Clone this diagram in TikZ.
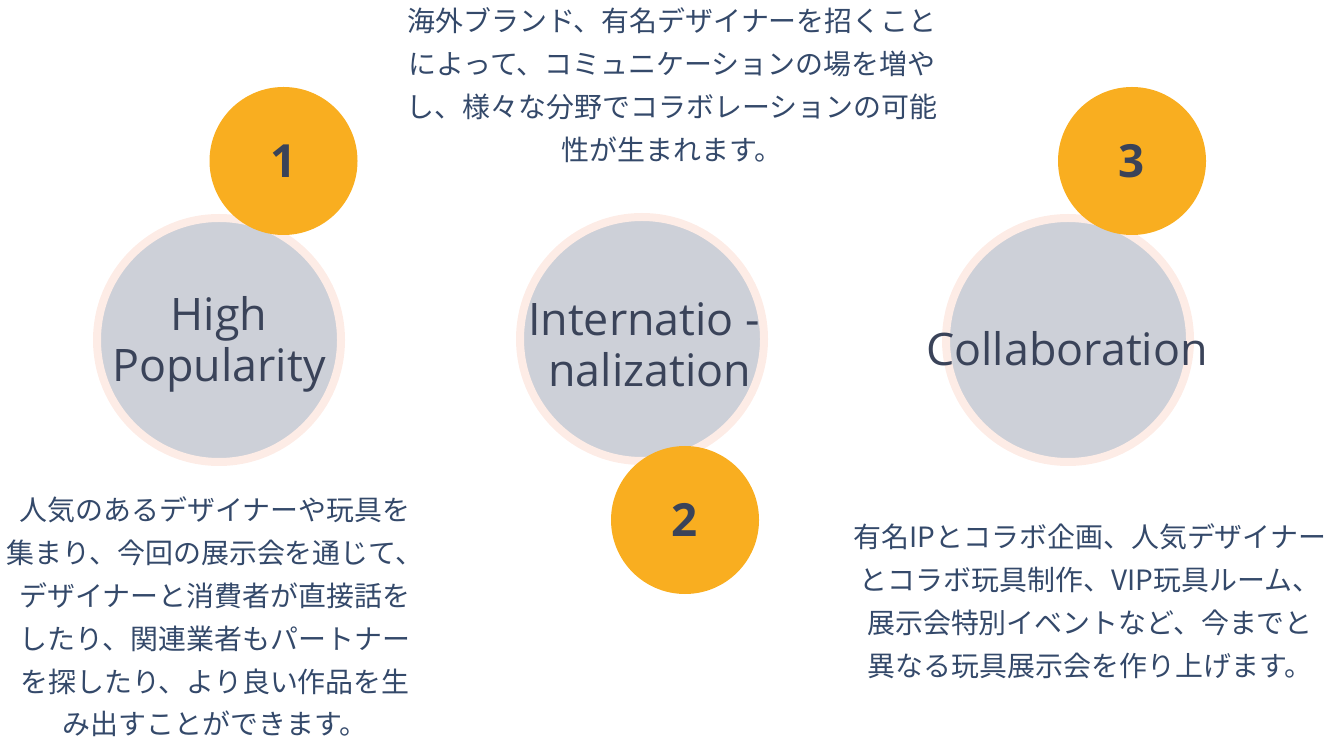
\documentclass[tikz,border=0pt]{standalone}
\usepackage{fontspec}
\setmainfont{Open Sans}
\newfontfamily\jpfont{Noto Sans CJK JP}
\usetikzlibrary{positioning}

\definecolor{bubblegrey}{HTML}{CDD0D8}
\definecolor{ringpink}{HTML}{FDECE6}
\definecolor{badgeorange}{HTML}{F9AE20}
\definecolor{labelink}{HTML}{3A4359}
\definecolor{textink}{HTML}{34496A}

\tikzset{
    bubble/.style={circle, fill=bubblegrey, draw=ringpink, line width=0.16cm,
        minimum size=4.88cm, inner sep=0pt},
    bubblelabel/.style={text=labelink, align=center,
        font=\fontsize{25.5}{28.9}\selectfont},
    badge/.style={circle, fill=badgeorange, minimum size=2.96cm, inner sep=0pt,
        text=labelink, font=\fontsize{26}{29}\selectfont\bfseries},
    note/.style={text=textink, align=center,
        font=\jpfont\fontsize{15.9}{24.4}\selectfont}
}

\begin{document}
\begin{tikzpicture}
    \useasboundingbox (0,0) rectangle (26.54,14.72);

    % Main bubbles
    \node[bubble] (popular) at (4.38,7.92) {};
    \node[bubble] (global) at (12.84,7.94) {};
    \node[bubble] (collab) at (21.36,7.92) {};

    \node[bubblelabel] (popularlabel) at (4.38,7.84) {High\\Popularity};
    \node[bubblelabel] (globallabel) at (12.88,7.82) {Internatio -\\\ nalization};
    \node[bubblelabel] (collablabel) at (21.34,7.74) {Collaboration};

    % Number badges
    \node[badge] (one) at (5.67,11.5) {1};
    \node[badge] (two) at (13.70,4.32) {2};
    \node[badge] (three) at (22.64,11.5) {3};

    % Descriptions
    \node[note] (globaltext) at (13.44,13.02) {海外ブランド、有名デザイナーを招くこと\\によって、コミュニケーションの場を増や\\し、様々な分野でコラボレーションの可能\\性が生まれます。};
    \node[note] (populartext) at (4.30,2.38) {人気のあるデザイナーや玩具を\\集まり、今回の展示会を通じて、\\デザイナーと消費者が直接話を\\したり、関連業者もパートナー\\を探したり、より良い作品を生\\み出すことができます。};
    \node[note] (collabtext) at (21.80,2.70) {有名IPとコラボ企画、人気デザイナー\\とコラボ玩具制作、VIP玩具ルーム、\\展示会特別イベントなど、今までと\\異なる玩具展示会を作り上げます。};
\end{tikzpicture}
\end{document}
